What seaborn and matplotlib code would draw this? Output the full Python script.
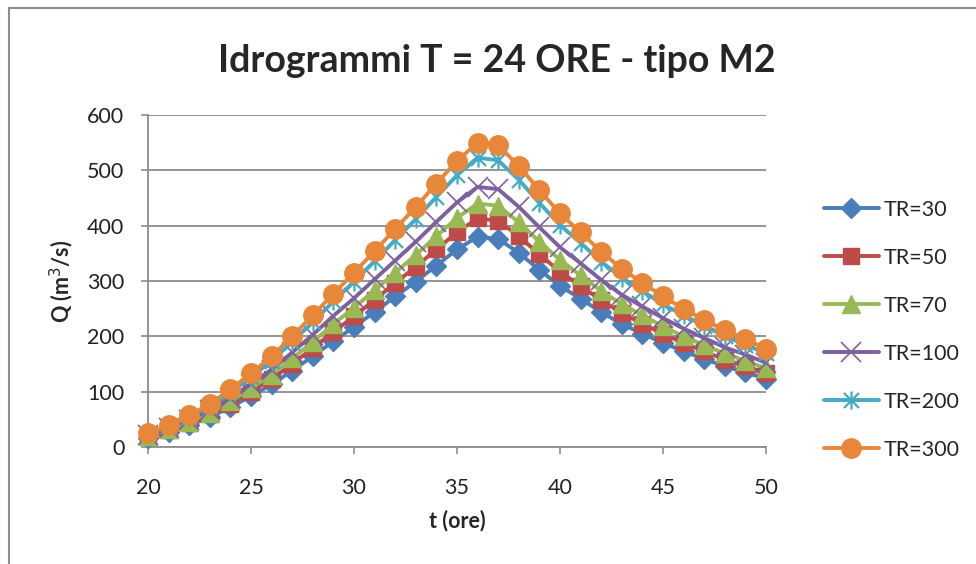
import numpy as np
import pandas as pd
import seaborn as sns
import matplotlib.pyplot as plt
from matplotlib.path import Path
from matplotlib.patches import Rectangle

# time (hours)
t = list(range(20, 51))

# discharge Q (m3/s) per return period
q_tr30 = [17, 28, 39, 54, 72, 92, 113, 138, 164, 191, 217, 244, 272, 299, 328, 357,
          380, 376, 351, 320, 291, 268, 244, 222, 205, 188, 173, 159, 146, 135, 123]
q_tr50 = [19, 30, 43, 59, 78, 100, 123, 150, 179, 208, 236, 266, 296, 326, 357, 388,
          413, 409, 381, 348, 317, 291, 265, 242, 223, 204, 188, 173, 158, 146, 134]
q_tr70 = [20, 32, 46, 62, 83, 106, 131, 160, 190, 222, 252, 283, 315, 347, 381, 414,
          440, 436, 406, 371, 338, 310, 282, 258, 238, 218, 200, 184, 169, 156, 142]
q_tr100 = [21, 34, 49, 67, 89, 114, 140, 171, 203, 237, 269, 303, 337, 371, 407, 442,
           470, 466, 434, 397, 361, 332, 302, 275, 254, 233, 214, 197, 180, 167, 152]
q_tr200 = [24, 38, 54, 74, 99, 126, 156, 190, 226, 263, 299, 336, 374, 412, 452, 491,
           523, 518, 483, 441, 401, 369, 335, 306, 282, 258, 238, 219, 200, 185, 169]
q_tr300 = [25, 40, 57, 78, 104, 133, 164, 200, 238, 277, 315, 354, 394, 434, 476, 517,
           550, 545, 508, 464, 422, 388, 353, 322, 297, 272, 250, 230, 211, 195, 178]

labels = ['TR=30', 'TR=50', 'TR=70', 'TR=100', 'TR=200', 'TR=300']
series = [q_tr30, q_tr50, q_tr70, q_tr100, q_tr200, q_tr300]

df = pd.DataFrame({'t': t * len(labels),
                   'Q': sum(series, []),
                   'TR': sum([[lab] * len(t) for lab in labels], [])})

# excel-like asterisk marker
star = Path([(-1, -1), (1, 1), (-1, 1), (1, -1), (0, -1.2), (0, 1.2)],
            [Path.MOVETO, Path.LINETO, Path.MOVETO, Path.LINETO, Path.MOVETO, Path.LINETO])

colors = ['#4A7EBB', '#BE4B48', '#98B954', '#7D60A0', '#46AAC5', '#E8873A']
markers = ['D', 's', '^', 'x', star, 'o']
msizes = [10, 12, 13, 14, 13, 14]
mews = [1, 1, 1, 1.2, 1.6, 1]

sns.set_style('white')
plt.rcParams['font.family'] = ['Lato', 'DejaVu Sans']

fig = plt.figure(figsize=(9.76, 5.64), dpi=100)
ax = fig.add_axes([148 / 976, 1 - 447 / 564, (766 - 148) / 976, (447 - 115) / 564])

for lab, col, mk, ms, mew in zip(labels, colors, markers, msizes, mews):
    sns.lineplot(data=df[df['TR'] == lab], x='t', y='Q', ax=ax, color=col, label=lab,
                 marker=mk, markersize=ms, markeredgecolor=col, markeredgewidth=mew,
                 linewidth=2.8, clip_on=False, zorder=3)

ax.set_xlim(20, 50)
ax.set_ylim(0, 600)
ax.set_xticks(range(20, 51, 5))
ax.set_yticks(range(0, 601, 100))
ax.grid(axis='y', color='#8c8c8c', linewidth=1.3)
ax.grid(axis='x', visible=False)
for s in ['top', 'right']:
    ax.spines[s].set_visible(False)
for s in ['left', 'bottom']:
    ax.spines[s].set_color('#8c8c8c')
    ax.spines[s].set_linewidth(1.3)
ax.tick_params(axis='both', which='major', length=5, width=1.2, color='#8c8c8c',
               direction='out', labelsize=15.5, labelcolor='#222222')
ax.tick_params(axis='y', pad=12, left=True)
ax.tick_params(axis='x', pad=17, bottom=True)

ax.set_xlabel('t (ore)', fontsize=15.5, fontweight='bold', labelpad=9)
ax.set_ylabel('Q (m$^3$/s)', fontsize=15.5, fontweight='bold', labelpad=8)
fig.text(0.509, 1 - 72 / 564, 'Idrogrammi T = 24 ORE - tipo M2', ha='center', va='baseline',
         fontsize=27, fontweight='bold')

leg = ax.legend(loc='upper left', bbox_to_anchor=(1.08, 0.77), frameon=False,
                fontsize=15.5, handlelength=2.55, handletextpad=0.2, labelspacing=1.3,
                borderaxespad=0)

# chart border
fig.patches.append(Rectangle((9 / 976, -0.1), 1.2, 1.1 - 8 / 564, transform=fig.transFigure,
                             fill=False, edgecolor='#8c8c8c', linewidth=1.5))

fig.savefig('out.png', dpi=100)
